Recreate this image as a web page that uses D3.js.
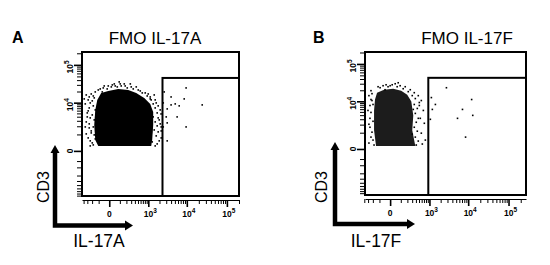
<!DOCTYPE html>
<html>
<head>
<meta charset="utf-8">
<script src="https://cdn.jsdelivr.net/npm/d3@7"></script>
<style>
  body { margin: 0; background: #fff; }
  svg { font-family: "Liberation Sans", Arial, sans-serif; }
</style>
</head>
<body>
<svg width="550" height="265"></svg>
<script>
// ---- data ----
const panelLetters = ["A", "B"];
const titles = ["FMO IL-17A", "FMO IL-17F"];
const xAxisNames = ["IL-17A", "IL-17F"];
const yAxisName = "CD3";
const xMajorTicks = [0, 1e3, 1e4, 1e5];
const yMajorTicks = [0, 1e4, 1e5];

// dense core of the CD3+ population (outline, in fluorescence units)
const coreA = [[-70, 18350], [-7, 20700], [81, 23430], [236, 22000], [442, 18350], [767, 13500],
  [1130, 9250], [1360, 5510], [1360, 2220], [1280, 555], [1200, 208], [-105, 208],
  [-147, 555], [-163, 2220], [-147, 6290], [-118, 11900]];
const coreB = [[-132, 17200], [-49, 20700], [23, 22000], [105, 19500], [197, 15200], [280, 9840],
  [327, 3940], [302, 1260], [382, 118], [-147, 118], [-179, 1260], [-179, 5510], [-163, 11200]];

// sparse events around the core and inside the gate
const eventsA = [
  [-327, 16200], [-280, 11900], [-353, 9250], [-257, 7150], [-302, 5160], [-236, 3680], [-327, 2770],
  [-257, 1760], [-216, 1150], [-280, 700], [-197, 366], [-236, 208], [-382, 12660], [-179, 15200], [-147, 19500],
  [-216, 17200], [-163, 13500], [-236, 9840], [-179, 8160], [-280, 5900], [-197, 4510], [-163, 3200],
  [-257, 2400], [-179, 1900], [-216, 1370], [-163, 955], [-236, 490], [-179, 257], [-302, 3940],
  [-353, 1900], [-257, 14330], [-197, 11200], [-147, 6290], [-327, 1050], [-147, 626],
  [-49, 24900], [23, 29900], [105, 31800], [179, 28100], [302, 26500], [280, 31800], [49, 28100],
  [586, 20700], [-7, 28100], [-105, 22000],
  [-81, 23430], [-40, 28100], [-15, 23430], [15, 26500], [40, 31800], [70, 26500], [118, 28100],
  [163, 31800], [216, 24900], [353, 23430], [442, 26500], [510, 22000], [672, 18350], [-59, 19500], [92, 35900],
  [1130, 14300], [1540, 11900], [1850, 8160], [2090, 6290], [2200, 4820], [1970, 3200], [2220, 1900],
  [1850, 1260], [2220, 700], [1740, 310], [995, 17200], [1450, 16200], [819, 18350],
  [932, 15200], [1200, 11900], [1360, 9250], [1640, 9840], [1540, 7150], [1740, 5160], [1360, 3940],
  [1850, 3680], [1540, 2770], [1740, 2060], [2090, 2400], [1450, 1490], [1640, 866], [1970, 490],
  [1540, 208], [1280, 425], [1130, 12660], [2220, 1370],
  [9600, 24900], [2660, 19500], [4000, 14300], [8600, 12660], [4000, 8680], [5100, 9250], [6430, 8160],
  [24300, 8680], [2510, 9840], [3180, 6710], [5700, 3940], [3000, 3940], [3180, 2580], [9600, 1900],
  [2510, 1900], [3180, 490]
];
const eventsB = [
  [-257, 1620], [-216, 10500], [-280, 14300], [-302, 5510], [-257, 3200], [-236, 626], [-280, 257], [-236, 19500],
  [-216, 16200], [-197, 8160], [-236, 4820], [-197, 2580], [-216, 1050], [-197, 425], [-257, 7630],
  [-179, 161], [-236, 11200], [-280, 2060],
  [-118, 24900], [-31, 28100], [40, 29900], [92, 26500], [163, 24900], [70, 31800], [257, 20700], [0, 26500],
  [-92, 23430], [-15, 24900], [15, 28100], [59, 24900], [132, 22000], [216, 18350], [-59, 26500], [-40, 20700],
  [474, 14300], [586, 10500], [510, 7630], [672, 5510], [546, 3200], [718, 2220], [586, 955], [767, 425],
  [627, 208], [353, 17200],
  [302, 14330], [382, 11900], [353, 8160], [442, 6290], [382, 4510], [474, 3200], [410, 2400], [353, 1620],
  [442, 1150], [382, 626], [474, 366], [410, 161], [327, 5900], [510, 9250], [302, 866],
  [2820, 23400], [1130, 12660], [12200, 11200], [1450, 8160], [1200, 5900], [7200, 5900], [13000, 3940],
  [5400, 3200], [1060, 2980], [8600, 626]
];

// gate: lower-left corner x and top y (extends to the right / bottom edge)
const gateA = [2400, 45600];
const gateB = [930, 43000];

// ---- layout ----
const panels = [
  { box: [82, 52, 239, 196], xDom: [-450, 200000], yDom: [-8200, 216000], core: coreA, events: eventsA, gate: gateA,
    coreFill: "#000", letterX: 12, titleX: 155, arrowX: 55, arrowY: 225.5, arrowTop: 145, arrowRight: 133,
    cd3X: 43, nameX: 99 },
  { box: [365, 52, 526, 195], xDom: [-380, 270000], yDom: [-9000, 206000], core: coreB, events: eventsB, gate: gateB,
    coreFill: "#1c1c1c", letterX: 313, titleX: 467, arrowX: 335, arrowY: 224, arrowTop: 142, arrowRight: 415,
    cd3X: 321, nameX: 376 }
];

const svg = d3.select("svg");

function minorTicks(neg, pos) {
  const t = [];
  neg.forEach(v => t.push(-v));
  pos.forEach(v => t.push(v));
  return t;
}
const xMinor = minorTicks(
  [100, 200, 300, 400],
  [100, 200, 300, 400, 500, 600, 700, 800, 900,
   2000, 3000, 4000, 5000, 6000, 7000, 8000, 9000,
   20000, 30000, 40000, 50000, 60000, 70000, 80000, 90000, 200000]);
const yMinor = minorTicks(
  [500, 1000, 2000, 3000, 4000, 5000, 6000, 7000, 8000],
  [1000, 2000, 3000, 4000, 5000, 6000, 7000, 8000, 9000,
   20000, 30000, 40000, 50000, 60000, 70000, 80000, 90000, 200000]);

function powerLabel(sel, v) {
  if (v === 0) { sel.text("0"); return; }
  sel.append("tspan").text("10");
  sel.append("tspan").attr("dy", -4).attr("font-size", 6.5).text(Math.round(Math.log10(v)));
}

panels.forEach((p, i) => {
  const [x0, y0, x1, y1] = p.box;
  const x = d3.scaleSymlog().constant(120).domain(p.xDom).range([x0, x1]);
  const y = d3.scaleSymlog().constant(600).domain(p.yDom).range([y1, y0]);
  const g = svg.append("g");

  // events
  g.append("path")
    .datum(p.core)
    .attr("d", d3.line().x(d => x(d[0])).y(d => y(d[1])).curve(d3.curveLinearClosed))
    .attr("fill", p.coreFill);
  g.append("g").selectAll("rect")
    .data(p.events)
    .join("rect")
    .attr("x", d => x(d[0]) - 0.8)
    .attr("y", d => y(d[1]) - 0.8)
    .attr("width", 1.6)
    .attr("height", 1.6)
    .attr("fill", "#000");

  // gate and frame
  g.append("rect")
    .attr("x", x(p.gate[0])).attr("y", y(p.gate[1]))
    .attr("width", x1 - x(p.gate[0])).attr("height", y1 - y(p.gate[1]))
    .attr("fill", "none").attr("stroke", "#000").attr("stroke-width", 2);
  g.append("rect")
    .attr("x", x0).attr("y", y0).attr("width", x1 - x0).attr("height", y1 - y0)
    .attr("fill", "none").attr("stroke", "#000").attr("stroke-width", 2);

  // x axis (own baseline just under the frame)
  const xa = g.append("g").attr("transform", `translate(0,${y1 + 4})`);
  xa.append("g").call(d3.axisBottom(x).tickValues(xMinor).tickSize(4).tickSizeOuter(0).tickFormat(""));
  xa.append("g").call(d3.axisBottom(x).tickValues(xMajorTicks).tickSize(7).tickSizeOuter(0).tickFormat(""))
    .call(s => s.select(".domain").remove())
    .selectAll("line").attr("stroke-width", 1.6);
  xa.selectAll(".domain").attr("stroke-width", 1.2);
  xa.selectAll(".xlab")
    .data(xMajorTicks)
    .join("text")
    .attr("class", "xlab")
    .attr("x", d => x(d) + (d === 0 ? 0 : 2))
    .attr("y", 17)
    .attr("text-anchor", "middle")
    .attr("font-size", 8.5)
    .attr("font-weight", "bold")
    .each(function (d) { powerLabel(d3.select(this), d); });

  // y axis (ticks on the frame)
  const ya = g.append("g").attr("transform", `translate(${x0},0)`);
  ya.append("g").call(d3.axisLeft(y).tickValues(yMinor).tickSize(5).tickFormat(""))
    .call(s => s.select(".domain").remove());
  ya.append("g").call(d3.axisLeft(y).tickValues(yMajorTicks).tickSize(8).tickFormat(""))
    .call(s => s.select(".domain").remove())
    .selectAll("line").attr("stroke-width", 1.6);
  ya.selectAll(".ylab")
    .data(yMajorTicks)
    .join("text")
    .attr("class", "ylab")
    .attr("transform", d => `translate(-9,${y(d) + (d === 0 ? 0 : 2)}) rotate(-90)`)
    .attr("text-anchor", "middle")
    .attr("font-size", 8.5)
    .attr("font-weight", "bold")
    .each(function (d) { powerLabel(d3.select(this), d); });

  // titles
  svg.append("text").attr("x", p.letterX).attr("y", 43)
    .attr("font-size", 16).attr("font-weight", "bold").text(panelLetters[i]);
  svg.append("text").attr("x", p.titleX).attr("y", 44)
    .attr("text-anchor", "middle").attr("font-size", 17).text(titles[i]);

  // CD3 / cytokine arrows
  svg.append("path")
    .attr("d", `M${p.arrowX},${p.arrowTop + 6}V${p.arrowY}H${p.arrowRight - 6}`)
    .attr("fill", "none").attr("stroke", "#000").attr("stroke-width", 4.5);
  svg.append("path")
    .attr("d", `M${p.arrowX - 4.5},${p.arrowTop + 8}L${p.arrowX},${p.arrowTop}L${p.arrowX + 4.5},${p.arrowTop + 8}Z`)
    .attr("fill", "#000");
  svg.append("path")
    .attr("d", `M${p.arrowRight - 8},${p.arrowY - 5}L${p.arrowRight},${p.arrowY}L${p.arrowRight - 8},${p.arrowY + 5}Z`)
    .attr("fill", "#000");
  svg.append("text")
    .attr("transform", `translate(${p.cd3X + 6},187) rotate(-90)`)
    .attr("text-anchor", "middle").attr("font-size", 16).text(yAxisName);
  svg.append("text").attr("x", p.nameX).attr("y", 247)
    .attr("text-anchor", "middle").attr("font-size", 17.5).text(xAxisNames[i]);
});
</script>
</body>
</html>
